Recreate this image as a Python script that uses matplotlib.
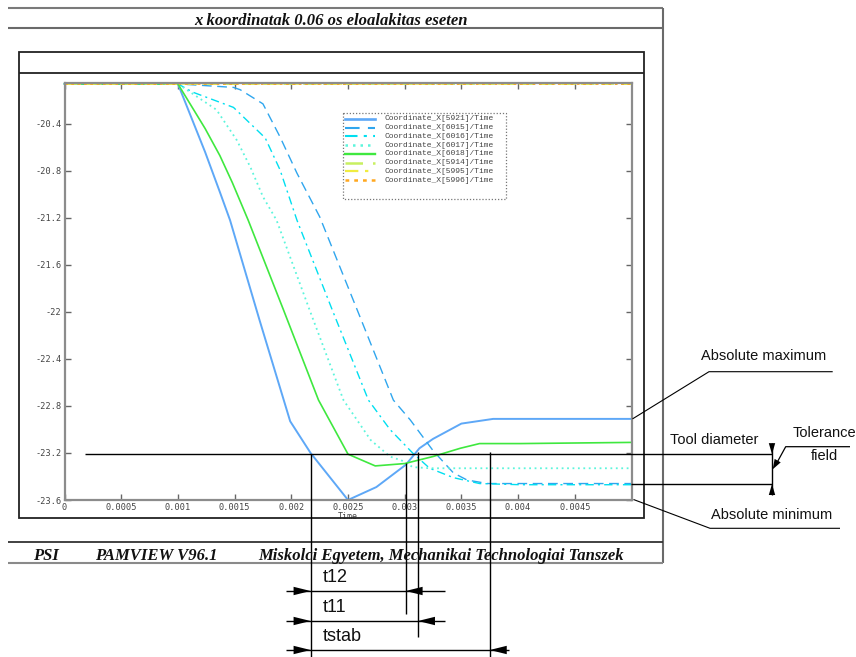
import matplotlib
matplotlib.use('Agg')
import matplotlib.pyplot as plt
from matplotlib.patches import Rectangle

# ---------------- data ----------------
t5921 = [0, 0.001, 0.00124, 0.00137, 0.00146, 0.00172, 0.00199, 0.00217, 0.0025,
         0.00275, 0.00301, 0.00313, 0.00325, 0.0035, 0.00378, 0.005]
x5921 = [-20.06, -20.06, -20.64, -20.98, -21.22, -22.07, -22.93, -23.20, -23.60,
         -23.49, -23.30, -23.16, -23.08, -22.95, -22.91, -22.91]

t6015 = [0, 0.001, 0.00149, 0.00155, 0.00175, 0.0019, 0.00205, 0.00225, 0.00258,
         0.0029, 0.00305, 0.00325, 0.00343, 0.00355, 0.00373, 0.005]
x6015 = [-20.06, -20.06, -20.09, -20.11, -20.23, -20.51, -20.82, -21.19, -21.98,
         -22.75, -22.92, -23.18, -23.37, -23.43, -23.46, -23.46]

t6016 = [0, 0.001, 0.00113, 0.00149, 0.00177, 0.0019, 0.00205, 0.00236, 0.00268,
         0.00287, 0.00307, 0.00322, 0.00343, 0.00366, 0.00402, 0.005]
x6016 = [-20.06, -20.06, -20.13, -20.26, -20.52, -20.79, -21.22, -21.98, -22.75,
         -23.00, -23.20, -23.33, -23.41, -23.46, -23.47, -23.47]

t6017 = [0, 0.001, 0.00134, 0.00152, 0.00164, 0.00175, 0.00187, 0.00216, 0.00246,
         0.0027, 0.00287, 0.00299, 0.00307, 0.00322, 0.005]
x6017 = [-20.06, -20.06, -20.28, -20.54, -20.77, -21.02, -21.22, -21.98, -22.75,
         -23.09, -23.23, -23.27, -23.32, -23.33, -23.33]

t6018 = [0, 0.001, 0.00124, 0.00137, 0.00148, 0.00162, 0.00193, 0.00224, 0.0025,
         0.00274, 0.003, 0.00325, 0.00349, 0.00366, 0.00402, 0.005]
x6018 = [-20.06, -20.06, -20.44, -20.67, -20.90, -21.22, -21.98, -22.75, -23.21,
         -23.31, -23.29, -23.23, -23.16, -23.12, -23.12, -23.11]

t_flat = [0, 0.005]
x5914 = [-20.058, -20.058]
x5995 = [-20.06, -20.06]
x5996 = [-20.062, -20.062]

labels = ['Coordinate_X[5921]/Time', 'Coordinate_X[6015]/Time', 'Coordinate_X[6016]/Time',
          'Coordinate_X[6017]/Time', 'Coordinate_X[6018]/Time', 'Coordinate_X[5914]/Time',
          'Coordinate_X[5995]/Time', 'Coordinate_X[5996]/Time']

x_ticks = [0, 0.0005, 0.001, 0.0015, 0.002, 0.0025, 0.003, 0.0035, 0.004, 0.0045]
x_tick_labels = ['0', '0.0005', '0.001', '0.0015', '0.002', '0.0025', '0.003', '0.0035',
                 '0.004', '0.0045']
y_ticks = [-23.6, -23.2, -22.8, -22.4, -22.0, -21.6, -21.2, -20.8, -20.4]
y_tick_labels = ['-23.6', '-23.2', '-22.8', '-22.4', '-22', '-21.6', '-21.2', '-20.8', '-20.4']

# annotation values (data units)
t_ref = 0.00217       # blue curve crosses the tool-diameter line
t12 = 0.003008
t11 = 0.003117
tstab = 0.00375
tool_top = -23.21
tool_bot = -23.464
t_line_start = 0.00018

title = 'x koordinatak 0.06 os eloalakitas eseten'

# ---------------- figure ----------------
W, H = 856, 657
fig = plt.figure(figsize=(W / 100, H / 100), dpi=100)
fig.patch.set_facecolor('white')
L, R, T, B = 64.5, 631.5, 82.7, 500.0
ax = fig.add_axes([L / W, 1 - B / H, (R - L) / W, (B - T) / H])
ov = fig.add_axes([0, 0, 1, 1], zorder=5)
ov.set_xlim(0, W)
ov.set_ylim(H, 0)
ov.axis('off')
ov.patch.set_visible(False)

styles = [
    ('#5ea8f7', '-', 1.4),
    ('#2fa6ee', (0, (7, 4)), 1.0),
    ('#00dff0', (0, (6, 3, 1.5, 3)), 1.0),
    ('#5cf5dc', (0, (1, 2)), 1.3),
    ('#3fe83f', '-', 1.2),
    ('#c8f060', (0, (7, 4)), 1.3),
    ('#f0ec40', (0, (6, 3, 1.5, 3)), 1.1),
    ('#ffa820', (0, (1.5, 2)), 1.3),
]
data = [(t5921, x5921), (t6015, x6015), (t6016, x6016), (t6017, x6017),
        (t6018, x6018), (t_flat, x5914), (t_flat, x5995), (t_flat, x5996)]

for (tt, xx), (c, ls, lw), lab in zip(data, styles, labels):
    ax.plot(tt, xx, color=c, ls=ls, lw=lw, label=lab, clip_on=False)

ax.set_xlim(0, 0.005)
ax.set_ylim(-23.6, -20.05)
ax.set_xticks(x_ticks, x_tick_labels)
ax.set_yticks(y_ticks, y_tick_labels)
ax.tick_params(direction='in', length=4, width=1, color='#666666', top=True, right=True,
               labelsize=6.2, labelcolor='#444444', pad=2)
for lab in ax.get_xticklabels() + ax.get_yticklabels():
    lab.set_family('DejaVu Sans Mono')
for sp in ax.spines.values():
    sp.set_color('#8c8c8c')
    sp.set_linewidth(1.6)
ax.set_xlabel('Time', fontsize=6, family='DejaVu Sans Mono', color='#444444', labelpad=0.5)


def P(t, v):
    d = ax.transData.transform((t, v))
    return d[0], H - d[1]


def line(xs, ys, **kw):
    kw.setdefault('color', 'black')
    kw.setdefault('lw', 1.0)
    ov.plot(xs, ys, solid_capstyle='butt', **kw)


def tri(tip, d, length=16, half=4.0):
    import math
    n = math.hypot(*d)
    dx, dy = d[0] / n, d[1] / n
    bx, by = tip[0] - length * dx, tip[1] - length * dy
    px, py = -dy, dx
    ov.fill([tip[0], bx + half * px, bx - half * px],
            [tip[1], by + half * py, by - half * py], color='black', lw=0)


# ---------------- page frames ----------------
line([8, 663], [8.3, 8.3], color='#7a7a7a', lw=1.5)
line([8, 663], [28.3, 28.3], color='#6a6a6a', lw=1.5)
line([663, 663], [8.3, 563], color='#6a6a6a', lw=1.5)
line([8, 663], [542.3, 542.3], color='#333333', lw=1.3)
line([8, 663], [563, 563], color='#8a8a8a', lw=1.5)
ov.add_patch(Rectangle((19, 52.3), 625, 466, fill=False, ec='#222222', lw=1.3))
line([19, 644], [73.3, 73.3], color='#222222', lw=1.3)

ov.text(331, 25, title, ha='center', va='baseline', fontsize=12, family='Liberation Serif',
        weight='bold', style='italic', color='#111111')
ov.text(33, 560, 'PSI', ha='left', va='baseline', fontsize=12, family='Liberation Serif',
        weight='bold', style='italic', color='#111111')
ov.text(95, 560, 'PAMVIEW V96.1', ha='left', va='baseline', fontsize=12,
        family='Liberation Serif', weight='bold', style='italic', color='#111111')
ov.text(258, 560, 'Miskolci Egyetem, Mechanikai Technologiai Tanszek', ha='left',
        va='baseline', fontsize=12, family='Liberation Serif', weight='bold', style='italic',
        color='#111111')

# ---------------- legend (drawn as in the reference) ----------------
ov.add_patch(Rectangle((342.7, 113.3), 163.3, 86, fill=False, ec='#777777', lw=0.9,
                       ls=(0, (1, 1.5))))
for i, ((c, ls, lw), lab) in enumerate(zip(styles, labels)):
    y = 119 + i * 8.72
    ov.plot([345, 375], [y, y], color=c, ls=ls, lw=lw + 0.5)
    ov.text(385, y, lab, ha='left', va='center', fontsize=5.8, family='Liberation Mono',
            color='#444444')

# ---------------- annotations ----------------
x0, ytop = P(t_line_start, tool_top)
xe, _ = P(0.005, tool_top)
_, ybot = P(0.005, tool_bot)
xa = 772
line([x0, xa], [ytop, ytop])
line([xe, xa], [ybot, ybot])
line([xa, xa], [ytop - 11, ybot + 11])
tri((xa, ytop), (0, 1), length=11, half=3.2)
tri((xa, ybot), (0, -1), length=11, half=3.2)

# vertical reference lines
xr, yr = P(t_ref, tool_top)
x12, y12 = P(t12, -23.288)
x11, y11 = P(t11, -23.189)
xs, ys = P(tstab, -23.189)
line([xr, xr], [yr, H])
line([x12, x12], [y12, 614])
line([x11, x11], [y11, 637])
line([xs, xs], [ys, H])

# dimension lines
font_t = dict(fontsize=13, family=['Liberation Sans Narrow', 'Liberation Sans'],
              color='#111111', ha='left', va='baseline')
for yline, xend, xtip, lab in [(591, 445, x12, 't12'), (621, 445, x11, 't11'),
                               (650, 509, xs, 'tstab')]:
    line([286, xend], [yline, yline])
    tri((xr, yline), (1, 0), length=17, half=4.2)
    tri((xtip, yline), (-1, 0), length=17, half=4.2)
    ov.text(323, yline - 9, lab, **font_t)

# right side labels and leaders
font_a = dict(fontsize=10.5, family='Liberation Sans', color='#111111', va='center',
              ha='left')
mx, my = P(0.005, x5921[-1])
line([mx + 1, 709, 832.7], [my, 371.7, 371.7], lw=0.8)
ov.text(701, 356, 'Absolute maximum', **font_a)
nx, ny = P(0.005, -23.6)
line([nx + 2, 710, 840], [ny - 0.5, 528.3, 528.3], lw=0.8)
ov.text(710.7, 515, 'Absolute minimum', **font_a)
ov.text(670, 440, 'Tool diameter', **font_a)
ov.text(792.7, 433.3, 'Tolerance', **font_a)
ov.text(810.7, 456, 'field', **font_a)
line([850, 785.7, 776.5], [446.7, 446.7, 463.5], lw=0.9)
tri((772.7, 469.3), (772.7 - 785.7, 469.3 - 446.7), length=10, half=3.5)

fig.savefig('out.png', dpi=100, facecolor='white')
